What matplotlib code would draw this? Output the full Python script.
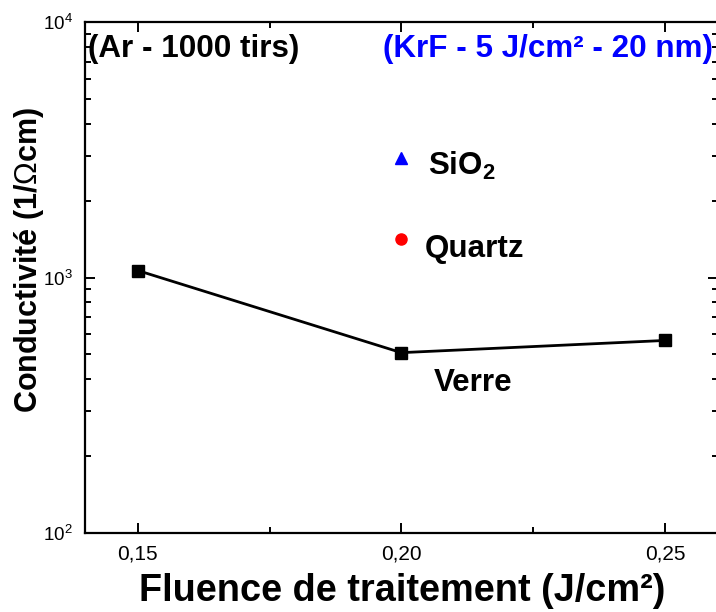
import numpy as np
import matplotlib
matplotlib.use("Agg")
from matplotlib import pyplot as plt
from matplotlib.ticker import FixedLocator, FuncFormatter, LogLocator

plt.rcParams['font.family'] = ['Liberation Sans', 'DejaVu Sans']
plt.rcParams['mathtext.fontset'] = 'custom'
plt.rcParams['mathtext.rm'] = 'Liberation Sans'
plt.rcParams['mathtext.bf'] = 'Liberation Sans:bold'

# conductivity of the glass substrate vs treatment fluence
fluence = [0.15, 0.20, 0.25]
verre = [1065, 508, 567]

# single points for the other substrates
sio2_x, sio2_y = [0.20], [2936]
quartz_x, quartz_y = [0.20], [1415]

fig = plt.figure(figsize=(7.16, 6.12), dpi=100)
# right spine sits just past the figure edge
ax = fig.add_axes([85 / 716, 79 / 612, 632.6 / 716, 511 / 612])

ax.plot(fluence, verre, color='black', lw=2, marker='s', ms=8,
        mfc='black', mec='black')
ax.plot(sio2_x, sio2_y, ls='none', marker='^', ms=9, color='blue')
ax.plot(quartz_x, quartz_y, ls='none', marker='o', ms=8, color='red')

ax.set_yscale('log')
ax.set_ylim(100, 10000)
ax.set_xlim(0.14, 0.26)

ax.xaxis.set_major_locator(FixedLocator([0.15, 0.20, 0.25]))
ax.xaxis.set_minor_locator(FixedLocator([0.175, 0.225]))
ax.xaxis.set_major_formatter(FuncFormatter(lambda v, p: f"{v:.2f}".replace('.', ',')))
ax.yaxis.set_major_locator(LogLocator(base=10))
ax.yaxis.set_minor_locator(LogLocator(base=10, subs=np.arange(2, 10)))

for s in ax.spines.values():
    s.set_linewidth(1.6)
ax.tick_params(which='both', direction='in', top=True, right=True, width=1.4)
ax.tick_params(which='major', length=7)
ax.tick_params(which='minor', length=4.5)
ax.tick_params(axis='x', which='major', labelsize=15, pad=8.5)
ax.tick_params(axis='y', which='major', labelsize=13.5, pad=9)

ax.set_xlabel("Fluence de traitement (J/cm²)", fontsize=27.3, fontweight='bold',
              va='baseline')
ax.xaxis.set_label_coords(0.501, -0.133)
ax.set_ylabel(r"Conductivité (1/$\mathrm{\Omega}$cm)", fontsize=22, fontweight='bold',
              va='center')
ax.yaxis.set_label_coords(-0.089, 0.534)

ax.text(0.005, 0.9315, "(Ar - 1000 tirs)", transform=ax.transAxes, fontsize=22.6,
        fontweight='bold', va='baseline', ha='left')
ax.text(0.4710, 0.9315, "(KrF - 5 J/cm² - 20 nm)", transform=ax.transAxes, fontsize=22.6,
        fontweight='bold', color='blue', va='baseline', ha='left')

ax.text(0.2050, 2518, r"SiO$_\mathbf{2}$", fontsize=22.6, fontweight='bold', va='baseline')
ax.text(0.2044, 1203, "Quartz", fontsize=22.6, fontweight='bold', va='baseline')
ax.text(0.2061, 360, "Verre", fontsize=22.6, fontweight='bold', va='baseline')

fig.savefig("out.png", dpi=100)
